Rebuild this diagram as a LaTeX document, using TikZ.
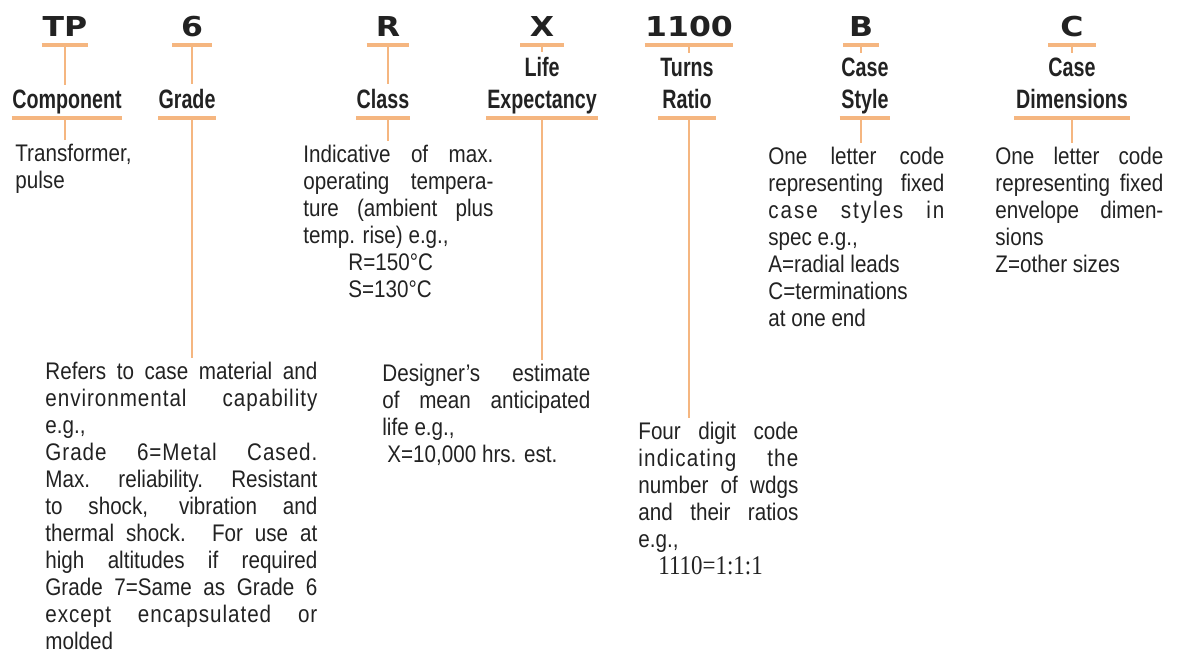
\documentclass[tikz,border=0pt]{standalone}
\usepackage{fontspec}
\usetikzlibrary{positioning}
\newfontfamily\bodyfont[FakeStretch=0.86]{Liberation Sans}
\newfontfamily\headfont[FakeStretch=0.74]{Liberation Sans}
\newfontfamily\codefont[FakeStretch=1.15]{DejaVu Sans}
\newfontfamily\numfont[FakeStretch=0.85]{Liberation Serif}
\definecolor{barorange}{RGB}{245,182,128}
\definecolor{inkgray}{RGB}{34,34,34}
\hbadness=10000
\tikzset{
  codetag/.style={font=\codefont\bfseries\fontsize{13.7bp}{15bp}\selectfont,text=inkgray,inner xsep=0pt,inner ysep=4bp,text height=10bp,text depth=0pt,anchor=south},
  fieldname/.style={font=\headfont\bfseries\fontsize{13.3bp}{16bp}\selectfont,text=inkgray,align=center,inner xsep=0pt,inner ysep=2bp,anchor=south,execute at end node=\vphantom{y}},
  fieldnote/.style={font=\bodyfont\fontsize{12bp}{13.5bp}\selectfont,text=inkgray,align=justify,inner xsep=0pt,inner ysep=2bp,anchor=north west},
  underbar/.style={draw=barorange,line width=2.2bp},
  stemline/.style={draw=barorange,line width=1.4bp}
}

\begin{document}
\begin{tikzpicture}[x=0.5bp,y=-0.5bp]
  \useasboundingbox (0,0) rectangle (1178,655);
  % code letters
  \node[codetag,minimum width=23bp] (tpcode) at (65,45) {TP};
  \node[codetag,minimum width=19.5bp] (sixcode) at (192,45) {6};
  \node[codetag,minimum width=21bp] (rcode) at (388,45) {R};
  \node[codetag,minimum width=21.5bp] (xcode) at (542,45) {X};
  \node[codetag,minimum width=44bp] (ratiocode) at (689,45) {1100};
  \node[codetag,minimum width=17.5bp] (bcode) at (861,45) {B};
  \node[codetag,minimum width=23.5bp] (ccode) at (1072,45) {C};
  % field names
  \node[fieldname,minimum width=55bp] (component) at (67,118) {Component};
  \node[fieldname,minimum width=26.5bp] (grade) at (187,118) {Grade};
  \node[fieldname,minimum width=25.5bp] (class) at (383,118) {Class};
  \node[fieldname,minimum width=55.5bp] (life) at (542,118) {Life\\Expectancy};
  \node[fieldname,minimum width=28.5bp] (turns) at (687,118) {Turns\\Ratio};
  \node[fieldname,minimum width=25bp] (casestyle) at (865,118) {Case\\Style};
  \node[fieldname,minimum width=57.5bp] (casedim) at (1072,118) {Case\\Dimensions};
  % notes
  \node[fieldnote,align=left] (componentnote) at (15,140) {Transformer,\\pulse};
  \node[fieldnote,text width=95bp] (classnote) at (303,140.5) {Indicative of max.\linebreak
    operating tempera-\linebreak ture (ambient plus\linebreak temp. rise) e.g.,\\
    \hspace*{22.5bp}R=150°C\\ \hspace*{22.5bp}S=130°C};
  \node[fieldnote,text width=88bp] (casestylenote) at (768,142.5) {One letter code\linebreak
    representing fixed\linebreak {\addfontfeature{LetterSpace=8}case styles in}\linebreak
    spec e.g.,\\ A=radial leads\\ C=terminations\\ at one end};
  \node[fieldnote,text width=84bp] (casedimnote) at (995,142.5) {One letter code\linebreak
    representing fixed\linebreak envelope dimen-\linebreak sions\\ Z=other sizes};
  \node[fieldnote,text width=136bp] (gradenote) at (45,357.5) {Refers to case material and\linebreak
    {\addfontfeature{LetterSpace=4}environmental capability}\linebreak e.g.,\\
    {\addfontfeature{LetterSpace=4}Grade 6=Metal Cased.}\linebreak
    Max. reliability. Resistant\linebreak to shock, vibration and\linebreak
    thermal shock. For use at\linebreak high altitudes if required\linebreak
    Grade 7=Same as Grade 6\linebreak
    {\addfontfeature{LetterSpace=4}except encapsulated or}\linebreak molded};
  \node[fieldnote,text width=104bp] (lifenote) at (382,359.5) {Designer’s estimate\linebreak
    of mean anticipated\linebreak life e.g.,\\ \hspace*{2.5bp}X=10,000 hrs. est.};
  \node[fieldnote,text width=80bp] (turnsnote) at (638,417.5) {Four digit code\linebreak
    {\addfontfeature{LetterSpace=5}indicating the}\linebreak number of wdgs\linebreak
    and their ratios\linebreak e.g.,\\ \hspace*{10bp}{\numfont\fontsize{13.5bp}{13.5bp}\selectfont 1110=1:1:1}};
  % bars under codes and names
  \draw[underbar] (tpcode.south west) -- (tpcode.south east);
  \draw[underbar] (sixcode.south west) -- (sixcode.south east);
  \draw[underbar] (rcode.south west) -- (rcode.south east);
  \draw[underbar] (xcode.south west) -- (xcode.south east);
  \draw[underbar] (ratiocode.south west) -- (ratiocode.south east);
  \draw[underbar] (bcode.south west) -- (bcode.south east);
  \draw[underbar] (ccode.south west) -- (ccode.south east);
  \draw[underbar] (component.south west) -- (component.south east);
  \draw[underbar] (grade.south west) -- (grade.south east);
  \draw[underbar] (class.south west) -- (class.south east);
  \draw[underbar] (life.south west) -- (life.south east);
  \draw[underbar] (turns.south west) -- (turns.south east);
  \draw[underbar] (casestyle.south west) -- (casestyle.south east);
  \draw[underbar] (casedim.south west) -- (casedim.south east);
  % stems
  \draw[stemline] (tpcode.south) -- (tpcode.south |- component.north);
  \draw[stemline] (sixcode.south) -- (sixcode.south |- grade.north);
  \draw[stemline] (rcode.south) -- (rcode.south |- class.north);
  \draw[stemline] (xcode.south) -- (xcode.south |- life.north);
  \draw[stemline] (ratiocode.south) -- (ratiocode.south |- turns.north);
  \draw[stemline] (bcode.south) -- (bcode.south |- casestyle.north);
  \draw[stemline] (ccode.south) -- (ccode.south |- casedim.north);
  \draw[stemline] (tpcode.south |- component.south) -- (tpcode.south |- componentnote.north);
  \draw[stemline] (sixcode.south |- grade.south) -- (sixcode.south |- gradenote.north);
  \draw[stemline] (rcode.south |- class.south) -- (rcode.south |- classnote.north);
  \draw[stemline] (xcode.south |- life.south) -- (xcode.south |- lifenote.north);
  \draw[stemline] (ratiocode.south |- turns.south) -- (ratiocode.south |- turnsnote.north);
  \draw[stemline] (bcode.south |- casestyle.south) -- (bcode.south |- casestylenote.north);
  \draw[stemline] (ccode.south |- casedim.south) -- (ccode.south |- casedimnote.north);
\end{tikzpicture}
\end{document}
